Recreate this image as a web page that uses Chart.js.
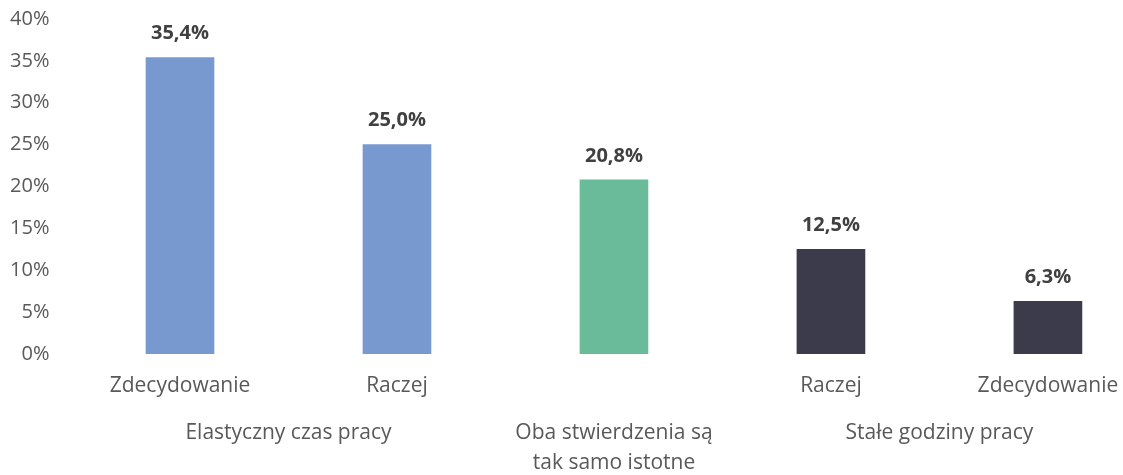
<!DOCTYPE html>
<html><head><meta charset="utf-8">
<script src="https://cdn.jsdelivr.net/npm/chart.js@4"></script>
<style>html,body{margin:0;padding:0;background:#fff}#wrap{width:1123px;height:475px;position:relative}</style>
</head><body><div id="wrap"><canvas id="c"></canvas></div>
<script>
const categories = ['Zdecydowanie', 'Raczej', '', 'Raczej', 'Zdecydowanie'];
const values = [35.4, 25.0, 20.8, 12.5, 6.3];
const valueLabels = ['35,4%', '25,0%', '20,8%', '12,5%', '6,3%'];
const barColors = ['#7898D0', '#7898D0', '#6ABB9A', '#3C3B4B', '#3C3B4B'];
const groupLabels = [['Elastyczny czas pracy'], ['Oba stwierdzenia są', 'tak samo istotne'], ['Stałe godziny pracy']];
const groupCenters = [0.5, 2, 3.5];
const yTicks = [0, 5, 10, 15, 20, 25, 30, 35, 40];

const FONT = "'Open Sans', 'Noto Sans', sans-serif";

const labelPlugin = {
  id: 'labels',
  afterDatasetsDraw(chart) {
    const ctx = chart.ctx;
    const meta = chart.getDatasetMeta(0);
    ctx.save();
    ctx.font = 'bold 20px ' + FONT;
    ctx.fillStyle = '#404040';
    ctx.textAlign = 'center';
    ctx.textBaseline = 'middle';
    meta.data.forEach((bar, i) => {
      ctx.fillText(valueLabels[i], bar.x, bar.y - 24);
    });
    ctx.font = '21px ' + FONT;
    ctx.fillStyle = '#595959';
    const xs = chart.scales.x;
    const base = chart.chartArea.bottom;
    categories.forEach((c, i) => {
      ctx.fillText(c, xs.getPixelForValue(i), base + 32);
    });
    groupLabels.forEach((lines, g) => {
      const px = xs.getPixelForValue(groupCenters[g]);
      lines.forEach((t, k) => ctx.fillText(t, px, base + 79 + k * 30));
    });
    ctx.restore();
  }
};

new Chart(document.getElementById('c'), {
  type: 'bar',
  data: {
    datasets: [{
      data: values.map((v, i) => ({x: i, y: v})),
      backgroundColor: barColors,
      barThickness: 68,
      borderWidth: 0
    }]
  },
  options: {
    responsive: true,
    maintainAspectRatio: false,
    animation: false,
    events: [],
    layout: {padding: 0},
    plugins: {legend: {display: false}, tooltip: {enabled: false}},
    scales: {
      x: {
        type: 'linear',
        offset: false,
        min: -0.5,
        max: 4.346,
        grid: {display: false, offset: false},
        border: {display: false},
        afterBuildTicks(s) { s.ticks = categories.map((c, i) => ({value: i})); },
        afterFit(s) { s.height = 121; s.paddingLeft = 0; s.paddingRight = 0; },
        ticks: {display: false}
      },
      y: {
        min: 0,
        max: 40,
        grid: {display: false, drawTicks: false},
        border: {display: false},
        afterBuildTicks(s) { s.ticks = yTicks.map(v => ({value: v})); },
        afterFit(s) { s.width = 71.5; s.paddingTop = 19; s.paddingBottom = 0; },
        ticks: {
          padding: 22,
          color: '#595959',
          font: {family: FONT, size: 20},
          callback: (v) => v + '%'
        }
      }
    }
  },
  plugins: [labelPlugin]
});
</script></body></html>
